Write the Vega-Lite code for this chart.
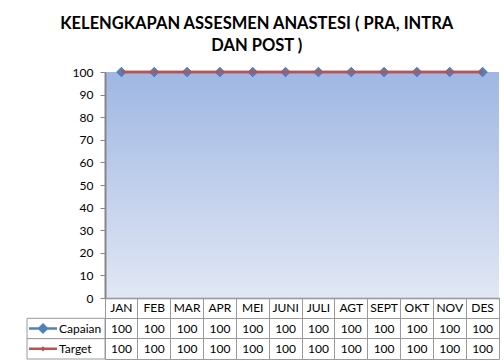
{
  "$schema": "https://vega.github.io/schema/vega-lite/v6.json",
  "padding": {"left": 23, "top": 16, "right": 8, "bottom": 0},
  "background": "white",
  "title": {
    "text": ["KELENGKAPAN ASSESMEN ANASTESI ( PRA, INTRA", "DAN POST )"],
    "font": "Lato",
    "fontSize": 16.5,
    "fontWeight": "bold",
    "color": "#000000",
    "lineHeight": 22,
    "anchor": "middle",
    "offset": 11,
    "dx": -5
  },
  "datasets": {
    "main": [
      {"bulan": "JAN", "seri": "Capaian", "nilai": 100},
      {"bulan": "FEB", "seri": "Capaian", "nilai": 100},
      {"bulan": "MAR", "seri": "Capaian", "nilai": 100},
      {"bulan": "APR", "seri": "Capaian", "nilai": 100},
      {"bulan": "MEI", "seri": "Capaian", "nilai": 100},
      {"bulan": "JUNI", "seri": "Capaian", "nilai": 100},
      {"bulan": "JULI", "seri": "Capaian", "nilai": 100},
      {"bulan": "AGT", "seri": "Capaian", "nilai": 100},
      {"bulan": "SEPT", "seri": "Capaian", "nilai": 100},
      {"bulan": "OKT", "seri": "Capaian", "nilai": 100},
      {"bulan": "NOV", "seri": "Capaian", "nilai": 100},
      {"bulan": "DES", "seri": "Capaian", "nilai": 100},
      {"bulan": "JAN", "seri": "Target", "nilai": 100},
      {"bulan": "FEB", "seri": "Target", "nilai": 100},
      {"bulan": "MAR", "seri": "Target", "nilai": 100},
      {"bulan": "APR", "seri": "Target", "nilai": 100},
      {"bulan": "MEI", "seri": "Target", "nilai": 100},
      {"bulan": "JUNI", "seri": "Target", "nilai": 100},
      {"bulan": "JULI", "seri": "Target", "nilai": 100},
      {"bulan": "AGT", "seri": "Target", "nilai": 100},
      {"bulan": "SEPT", "seri": "Target", "nilai": 100},
      {"bulan": "OKT", "seri": "Target", "nilai": 100},
      {"bulan": "NOV", "seri": "Target", "nilai": 100},
      {"bulan": "DES", "seri": "Target", "nilai": 100}
    ]
  },
  "config": {
    "view": {"stroke": null},
    "font": "Lato",
    "text": {"font": "Lato", "fontSize": 12, "color": "#000000"},
    "axis": {"labelFont": "Lato", "labelFontSize": 12, "labelColor": "#000000"}
  },
  "bounds": "flush",
  "spacing": 0,
  "columns": 2,
  "concat": [
    {
      "width": 78,
      "height": 226,
      "data": {"name": "main"},
      "transform": [{"filter": "datum.bulan == 'JAN' && datum.seri == 'Capaian'"}],
      "mark": {"type": "text", "opacity": 0},
      "encoding": {"text": {"value": " "}}
    },
    {
      "width": 394,
      "height": 226,
      "view": {
        "stroke": null,
        "fill": {
          "gradient": "linear",
          "x1": 0, "y1": 0, "x2": 0, "y2": 1,
          "stops": [
            {"offset": 0, "color": "#9fb7e3"},
            {"offset": 1, "color": "#e1e7f4"}
          ]
        }
      },
      "data": {"name": "main"},
      "encoding": {
        "x": {
          "field": "bulan",
          "type": "nominal",
          "sort": null,
          "scale": {"type": "point", "padding": 0.5},
          "axis": {
            "title": null,
            "labels": false,
            "ticks": false,
            "domain": true,
            "domainColor": "#868686",
            "domainWidth": 1.5
          }
        },
        "y": {
          "field": "nilai",
          "type": "quantitative",
          "scale": {"domain": [0, 100], "nice": false},
          "axis": {
            "title": null,
            "values": [0, 10, 20, 30, 40, 50, 60, 70, 80, 90, 100],
            "grid": false,
            "domainColor": "#868686",
            "domainWidth": 2,
            "tickColor": "#868686",
            "tickSize": 5,
            "tickWidth": 1,
            "labelPadding": 7
          }
        }
      },
      "layer": [
        {
          "transform": [{"filter": "datum.seri == 'Capaian'"}],
          "mark": {"type": "line", "color": "#4f81bd", "strokeWidth": 2.5}
        },
        {
          "transform": [{"filter": "datum.seri == 'Capaian'"}],
          "mark": {"type": "point", "shape": "diamond", "filled": true, "size": 90, "color": "#4f81bd", "opacity": 1, "stroke": "#3f6ea8", "strokeWidth": 0.8}
        },
        {
          "transform": [{"filter": "datum.seri == 'Target'"}],
          "mark": {"type": "line", "color": "#c0504d", "strokeWidth": 2.5}
        }
      ]
    },
    {
      "width": 78,
      "height": 61,
      "data": {"name": "main"},
      "transform": [{"filter": "datum.bulan == 'JAN'"}],
      "encoding": {
        "y": {
          "field": "seri",
          "type": "nominal",
          "scale": {"type": "band", "domain": ["BULAN", "Capaian", "Target"], "paddingInner": 0, "paddingOuter": 0},
          "axis": null
        }
      },
      "layer": [
        {
          "mark": {"type": "rect", "fill": "white", "stroke": "#9a9a9a", "strokeWidth": 1}
        },
        {
          "mark": {"type": "point", "filled": true, "size": 784, "strokeWidth": 2.5, "opacity": 1},
          "encoding": {
            "x": {
              "datum": "sym",
              "type": "nominal",
              "scale": {"type": "band", "domain": ["sym", "lbl"], "paddingInner": 0, "paddingOuter": 0.22, "align": 0},
              "axis": null,
              "bandPosition": 0.5
            },
            "shape": {
              "field": "seri",
              "type": "nominal",
              "scale": {
                "domain": ["Capaian", "Target"],
                "range": [
                  "M-1,0L1,0M0,-0.27L0.27,0L0,0.27L-0.27,0Z",
                  "M-1,0L1,0M-0.1,-0.1L0.1,0.1M-0.1,0.1L0.1,-0.1"
                ]
              },
              "legend": null
            },
            "fill": {
              "field": "seri",
              "type": "nominal",
              "scale": {"domain": ["Capaian", "Target"], "range": ["#4f81bd", "#c0504d"]},
              "legend": null
            },
            "stroke": {
              "field": "seri",
              "type": "nominal",
              "scale": {"domain": ["Capaian", "Target"], "range": ["#4f81bd", "#c0504d"]},
              "legend": null
            }
          }
        },
        {
          "mark": {"type": "text", "align": "left", "baseline": "middle"},
          "encoding": {
            "x": {
              "datum": "lbl",
              "type": "nominal",
              "bandPosition": 0
            },
            "text": {"field": "seri"}
          }
        }
      ]
    },
    {
      "width": 394,
      "height": 61,
      "view": {"stroke": "#9a9a9a", "strokeWidth": 1},
      "data": {"name": "main"},
      "encoding": {
        "x": {
          "field": "bulan",
          "type": "nominal",
          "sort": null,
          "scale": {"type": "band", "paddingInner": 0, "paddingOuter": 0},
          "axis": {
            "title": null,
            "labels": false,
            "ticks": false,
            "domain": false,
            "grid": true,
            "bandPosition": 0,
            "gridColor": "#9a9a9a",
            "gridOpacity": 1,
            "gridWidth": 1
          }
        }
      },
      "layer": [
        {
          "transform": [{"filter": "datum.seri == 'Capaian'"}],
          "mark": {"type": "text", "baseline": "middle"},
          "encoding": {
            "y": {
              "datum": "BULAN",
              "type": "nominal",
              "scale": {"type": "band", "domain": ["BULAN", "Capaian", "Target"], "paddingInner": 0, "paddingOuter": 0},
              "axis": {
                "title": null,
                "labels": false,
                "ticks": false,
                "domain": false,
                "grid": true,
                "bandPosition": 0,
                "gridColor": "#9a9a9a",
                "gridOpacity": 1,
                "gridWidth": 1
              },
              "bandPosition": 0.5
            },
            "x": {"field": "bulan", "type": "nominal", "sort": null, "bandPosition": 0.5},
            "text": {"field": "bulan"}
          }
        },
        {
          "mark": {"type": "text", "baseline": "middle"},
          "encoding": {
            "y": {"field": "seri", "type": "nominal", "bandPosition": 0.5},
            "x": {"field": "bulan", "type": "nominal", "sort": null, "bandPosition": 0.5},
            "text": {"field": "nilai"}
          }
        }
      ]
    }
  ]
}
